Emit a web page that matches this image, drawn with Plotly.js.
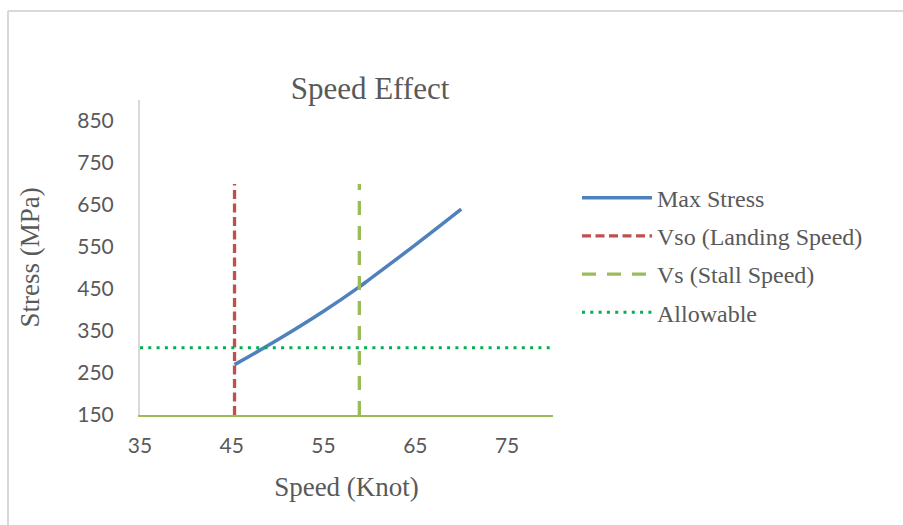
<!DOCTYPE html>
<html>
<head>
<meta charset="utf-8">
<script src="https://cdn.plot.ly/plotly-3.0.1.min.js"></script>
<style>
html,body{margin:0;padding:0;background:#fff;}
#chart{width:903px;height:525px;}
</style>
</head>
<body>
<div id="chart"></div>
<script>
// Data
var speed = [45.3, 50, 55, 58.9, 60, 65, 70];
var maxStress = [270, 329, 397, 455, 473, 555, 640];
var vsoX = [45.3, 45.3];
var vsoY = [150, 700];
var vsX = [58.9, 58.9];
var vsY = [150, 700];
var allowX = [35, 80];
var allowY = [310, 310];
var seriesNames = ['Max Stress', 'Vso (Landing Speed)', 'Vs (Stall Speed)', 'Allowable'];
var xTicks = [35, 45, 55, 65, 75];
var yTicks = [150, 250, 350, 450, 550, 650, 750, 850];

var serif = 'Liberation Serif, Times New Roman, serif';
var sans = 'Lato, sans-serif';
var txt = '#595959';

var traces = [
  {x: speed, y: maxStress, name: seriesNames[0], mode: 'lines', legendgroup: 'a',
   line: {color: '#4F81BD', width: 3.5, shape: 'spline', smoothing: 1.3}},
  {x: vsoX, y: vsoY, name: seriesNames[1], mode: 'lines', legendgroup: 'b',
   line: {color: '#C0504D', width: 3.3, dash: '9px,4.5px'}},
  {x: vsX, y: vsY, name: seriesNames[2], mode: 'lines', legendgroup: 'c',
   line: {color: '#9BBB59', width: 3.3, dash: '14px,11px'}},
  {x: allowX, y: allowY, name: seriesNames[3], mode: 'lines', legendgroup: 'd',
   line: {color: '#00B050', width: 3, dash: '3px,5.3px'}}
];

var layout = {
  width: 903, height: 525,
  margin: {l: 140, r: 350, t: 100, b: 110},
  paper_bgcolor: '#fff', plot_bgcolor: '#fff',
  title: {text: 'Speed Effect', font: {family: serif, size: 31, color: txt},
          x: 370/903, xanchor: 'center', xref: 'container',
          y: 1 - 88/525, yanchor: 'middle', yref: 'container'},
  xaxis: {range: [35, 80], tickvals: xTicks, ticktext: xTicks.map(String),
          showgrid: false, zeroline: false, ticks: '',
          showline: true, linecolor: '#9BBB59', linewidth: 2,
          tickfont: {family: sans, size: 21, color: txt}, ticklabelstandoff: 11,
          title: {text: 'Speed (Knot)', font: {family: serif, size: 27, color: txt}, standoff: 21}},
  yaxis: {range: [150, 900], tickvals: yTicks, ticktext: yTicks.map(String),
          showgrid: false, zeroline: false, ticks: '',
          showline: true, linecolor: '#d9d9d9', linewidth: 2,
          tickfont: {family: sans, size: 21, color: txt}, ticklabelstandoff: 20,
          title: {text: 'Stress (MPa)', font: {family: serif, size: 27, color: txt}, standoff: 30}},
  legend: {x: (577-140)/413, xanchor: 'left', y: 0.76, yanchor: 'top',
           font: {family: serif, size: 24, color: txt}, itemwidth: 70,
           tracegroupgap: 4, bgcolor: 'rgba(0,0,0,0)'},
  showlegend: true,
  shapes: [
    {type: 'line', xref: 'paper', yref: 'paper', x0: (8-140)/413, x1: (905-140)/413,
     y0: (415-11)/315, y1: (415-11)/315, line: {color: '#d9d9d9', width: 2}},
    {type: 'line', xref: 'paper', yref: 'paper', x0: (8-140)/413, x1: (8-140)/413,
     y0: (415-11)/315, y1: (415-530)/315, line: {color: '#d9d9d9', width: 2}}
  ]
};

Plotly.newPlot('chart', traces, layout, {displayModeBar: false, staticPlot: true});
</script>
</body>
</html>
